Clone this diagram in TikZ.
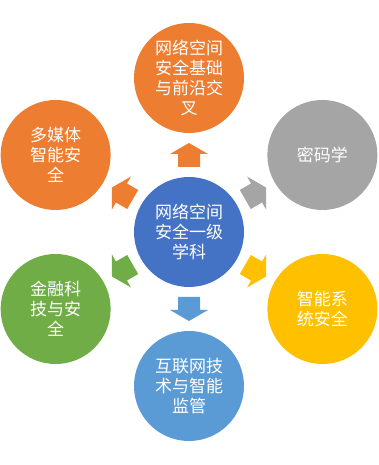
\documentclass[tikz,border=0pt]{standalone}
\usepackage{fontspec}
\newfontfamily\cjk{Noto Sans CJK SC}
\usetikzlibrary{calc}
\definecolor{cOrange}{HTML}{ED7D31}
\definecolor{cGray}{HTML}{A5A5A5}
\definecolor{cGold}{HTML}{FFC000}
\definecolor{cBlue}{HTML}{4472C4}
\definecolor{cLBlue}{HTML}{5B9BD5}
\definecolor{cGreen}{HTML}{70AD47}
\tikzset{
  bubble/.style={circle, minimum size=110pt, inner sep=0pt, text=white, align=center,
    font=\cjk\fontsize{17}{20}\selectfont},
}
\begin{document}
\begin{tikzpicture}[x=1pt,y=1pt]
\useasboundingbox (0,0) rectangle (379,465);
\node[bubble, fill=cBlue] (c) at (189,233) {网络空间\\安全一级\\学科};
\node[bubble, fill=cOrange] (n1) at ($(c)+(90:154)$) {网络空间\\安全基础\\与前沿交\\叉};
\node[bubble, fill=cGray] (n2) at ($(c)+(30:154)$) {密码学};
\node[bubble, fill=cGold] (n3) at ($(c)+(-30:154)$) {智能系\\统安全};
\node[bubble, fill=cLBlue] (n4) at ($(c)+(-90:154)$) {互联网技\\术与智能\\监管};
\node[bubble, fill=cGreen] (n5) at ($(c)+(210:154)$) {金融科\\技与安\\全};
\node[bubble, fill=cOrange] (n6) at ($(c)+(150:154)$) {多媒体\\智能安\\全};
\foreach \a/\col in {90/cOrange, 30/cGray, -30/cGold, -90/cLBlue, 210/cGreen, 150/cOrange} {
  \fill[\col, shift={(c.center)}, rotate=\a]
    (65,-11) -- (78,-11) -- (78,-19) -- (89,0) -- (78,19) -- (78,11) -- (65,11) -- cycle;
}
\end{tikzpicture}
\end{document}
